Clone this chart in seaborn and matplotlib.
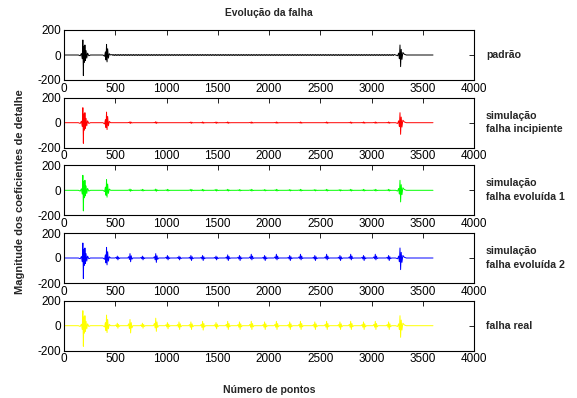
import numpy as np
import pandas as pd
import matplotlib
matplotlib.use("Agg")
import matplotlib.pyplot as plt
import seaborn as sns

sns.set_style("white")
plt.rcParams['font.family'] = ['Liberation Sans', 'DejaVu Sans']

# ---------------- data ----------------
series_names = ["padrão", "simulação\nfalha incipiente", "simulação\nfalha evoluída 1",
                "simulação\nfalha evoluída 2", "falha real"]
series_colors = ["#000000", "#ff0000", "#00ff00", "#0000ff", "#ffff00"]

x_ticks = [0, 500, 1000, 1500, 2000, 2500, 3000, 3500, 4000]
y_ticks = [-200, 0, 200]
signal_end = 3600

# main bursts (same in every record)
burst1_x = [140, 158, 170, 178, 184, 189, 194, 199, 204, 209, 215, 222, 230, 242, 258]
burst1_y = [0, -6, 12, -30, 120, -165, 70, -60, 80, -45, 35, -25, 15, -6, 0]
burst2_x = [380, 396, 404, 410, 415, 420, 426, 433, 442, 455]
burst2_y = [0, -10, 25, -40, 85, -55, 50, -25, 10, 0]
burst3_x = [3235, 3255, 3265, 3272, 3278, 3284, 3290, 3297, 3306, 3320, 3340]
burst3_y = [0, -6, 15, -30, 80, -93, 45, -35, 20, 6, 0]

# small fast ripple of the reference record
ripple_start, ripple_end, ripple_step, ripple_amp = 470, 3230, 8, 4

# periodic fault spikes
spike_pos = [523, 647, 768, 898, 1012, 1125, 1241, 1355, 1486, 1600, 1715, 1830,
             1960, 2075, 2205, 2310, 2450, 2565, 2695, 2800, 2925, 3040, 3170]
red_up = [0, 8, 0, 8, 0, 0, 6, 6, 6, 6, 0, 6, 0, 6, 0, 6, 0, 6, 0, 6, 6, 6, 6]
red_down = [0, 6, 0, 6, 0, 0, 5, 5, 5, 5, 0, 5, 0, 5, 0, 5, 0, 5, 0, 5, 5, 5, 5]
green_up = [0, 10, 8, 10, 8, 0, 8, 8, 8, 8, 6, 8, 6, 8, 6, 8, 6, 8, 6, 8, 8, 8, 8]
green_down = [0, 8, 6, 8, 6, 0, 6, 6, 6, 6, 5, 6, 5, 6, 5, 6, 5, 6, 5, 6, 6, 6, 6]
blue_up = [15, 35, 15, 35, 20, 15, 20, 20, 15, 25, 20, 30, 20, 30, 20, 30, 20, 30, 20, 30, 20, 30, 20]
blue_down = [15, 30, 15, 35, 15, 15, 20, 20, 15, 20, 20, 15, 20, 15, 20, 15, 20, 15, 20, 15, 20, 15, 20]
yellow_up = [20, 50, 20, 60, 25, 30, 30, 35, 25, 35, 30, 35, 30, 35, 30, 35, 30, 35, 30, 35, 30, 35, 30]
yellow_down = [20, 58, 20, 45, 25, 30, 30, 35, 25, 30, 30, 30, 30, 30, 30, 30, 30, 30, 30, 30, 30, 30, 30]

spike_offsets = [-25, -16, -9, -3, 3, 9, 16, 25]
spike_shape_up = [0, 0.3, 0, 1.0, 0, 0.5, 0, 0]
spike_shape_down = [0, 0, -0.4, 0, -1.0, 0, -0.3, 0]


def build(ups, downs, ripple):
    xs = [0.0] + burst1_x + burst2_x + burst3_x + [signal_end]
    ys = [0.0] + burst1_y + burst2_y + burst3_y + [0.0]
    if ripple:
        rx = np.arange(ripple_start, ripple_end, ripple_step)
        ry = ripple_amp * np.where(np.arange(len(rx)) % 2 == 0, 1, -1)
        xs += list(rx)
        ys += list(ry)
    if ups is not None:
        for c, u, d in zip(spike_pos, ups, downs):
            if u == 0 and d == 0:
                continue
            vals = [su * u + sd * d for su, sd in zip(spike_shape_up, spike_shape_down)]
            xs += [c + o for o in spike_offsets]
            ys += vals
    df = pd.DataFrame({"x": xs, "y": ys}).sort_values("x")
    return df


records = [
    build(None, None, True),
    build(red_up, red_down, False),
    build(green_up, green_down, False),
    build(blue_up, blue_down, False),
    build(yellow_up, yellow_down, False),
]

# ---------------- figure ----------------
W, H = 577, 398
fig = plt.figure(figsize=(W / 100, H / 100), dpi=100)
fig.patch.set_facecolor("white")

ax_left, ax_right = 64, 474
ax_h = 50
tops = [30, 97.7, 165.3, 233, 300.7]

for i, (df, col, name) in enumerate(zip(records, series_colors, series_names)):
    top = tops[i]
    ax = fig.add_axes([ax_left / W, 1 - (top + ax_h) / H, (ax_right - ax_left) / W, ax_h / H])
    sns.lineplot(data=df, x="x", y="y", ax=ax, color=col, lw=0.7,
                 estimator=None, sort=False)
    ax.set_xlim(0, 4000)
    ax.set_ylim(-200, 200)
    ax.set_xticks(x_ticks)
    ax.set_yticks(y_ticks)
    ax.set_xticklabels([str(t) for t in x_ticks])
    ax.set_yticklabels([str(t) for t in y_ticks])
    ax.set_xlabel("")
    ax.set_ylabel("")
    ax.tick_params(direction="in", top=True, right=True, length=3.5, width=0.6,
                   labelsize=8.5, pad=2, colors="black")
    for sp in ax.spines.values():
        sp.set_color("black")
        sp.set_linewidth(0.8)
        sp.set_visible(True)
    ax.set_facecolor("white")
    cy = 1 - (top + ax_h / 2) / H
    fig.text(486 / W, cy, name, ha="left", va="center", fontsize=7.6,
             fontweight="bold", linespacing=1.45)

fig.text(269 / W, 1 - 13 / H, "Evolução da falha", ha="center", va="center",
         fontsize=7.4, fontweight="bold")
fig.text(20 / W, 1 - 192 / H, "Magnitude dos coeficientes de detalhe", ha="center",
         va="center", rotation=90, fontsize=8.0, fontweight="bold")
fig.text(269 / W, 1 - 390 / H, "Número de pontos", ha="center", va="center",
         fontsize=7.6, fontweight="bold")

fig.savefig("out.png", dpi=100, facecolor="white")
